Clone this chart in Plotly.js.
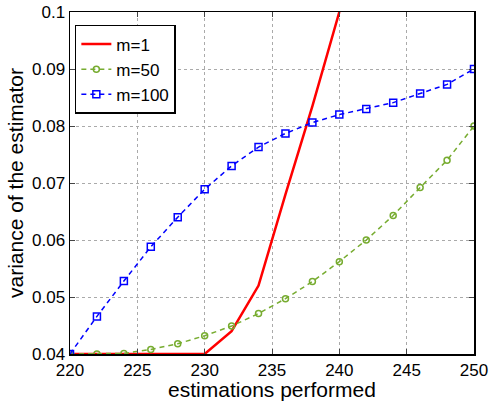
<!DOCTYPE html>
<html>
<head>
<meta charset="utf-8">
<script src="https://cdn.plot.ly/plotly-3.0.1.min.js"></script>
<style>html,body{margin:0;padding:0;background:#fff;}</style>
</head>
<body>
<div id="chart" style="width:491px;height:401px;"></div>
<script>
const xRed = [220, 222, 224, 226, 228, 230, 232, 234, 236, 238, 240];
const yRed = [0.04, 0.04, 0.04, 0.04, 0.04, 0.04, 0.044, 0.052, 0.068, 0.0835, 0.1];
const xSteps = [220, 222, 224, 226, 228, 230, 232, 234, 236, 238, 240, 242, 244, 246, 248, 250];
const yM50 = [0.04, 0.04, 0.0401, 0.0408, 0.0418, 0.0432, 0.0449, 0.0471, 0.0497, 0.0527, 0.0562, 0.06, 0.0643, 0.0692, 0.074, 0.08];
const yM100 = [0.04, 0.0466, 0.0528, 0.0588, 0.064, 0.0689, 0.073, 0.0763, 0.0787, 0.0806, 0.082, 0.083, 0.0841, 0.0857, 0.0873, 0.09];
const seriesNames = ['m=1', 'm=50', 'm=100'];
const xTicks = [220, 225, 230, 235, 240, 245, 250];
const yTicks = [0.04, 0.05, 0.06, 0.07, 0.08, 0.09, 0.1];
const yTickText = ['0.04', '0.05', '0.06', '0.07', '0.08', '0.09', '0.1'];

const traces = [
  {x: xRed, y: yRed, name: seriesNames[0], mode: 'lines',
   line: {color: '#ff0000', width: 2.5}},
  {x: xSteps, y: yM50, name: seriesNames[1], mode: 'lines+markers',
   line: {color: '#77ac30', width: 1.5, dash: '5px,4px'},
   marker: {symbol: 'circle-open', size: 6, color: '#77ac30', line: {width: 1.5, color: '#77ac30'}}},
  {x: xSteps, y: yM100, name: seriesNames[2], mode: 'lines+markers',
   line: {color: '#0000ff', width: 1.5, dash: '5px,4px'},
   marker: {symbol: 'square-open', size: 7, color: '#0000ff', line: {width: 1.5, color: '#0000ff'}}}
];

const font = {family: 'Liberation Sans, Arial, sans-serif', size: 17, color: '#000'};
const layout = {
  width: 491, height: 401,
  margin: {l: 70, r: 17, t: 12, b: 47},
  paper_bgcolor: '#fff', plot_bgcolor: '#fff',
  font: font,
  showlegend: true,
  legend: {x: 0.012, y: 0.962, xanchor: 'left', yanchor: 'top',
    bgcolor: '#fff', bordercolor: '#000', borderwidth: 1.5,
    font: {family: font.family, size: 17, color: '#000'},
    itemwidth: 30, tracegroupgap: 0},
  xaxis: {range: [220, 250], tickvals: xTicks, ticks: 'inside', ticklen: 5,
    showline: true, linecolor: '#000', linewidth: 1.5, mirror: 'ticks',
    showgrid: true, gridcolor: '#aaa', griddash: 'dot', gridwidth: 1,
    zeroline: false, tickfont: {size: 17},
    title: {text: 'estimations performed', font: {size: 21}, standoff: 0}},
  yaxis: {range: [0.04, 0.1], tickvals: yTicks, ticktext: yTickText, ticks: 'inside', ticklen: 5,
    showline: true, linecolor: '#000', linewidth: 1.5, mirror: 'ticks',
    showgrid: true, gridcolor: '#aaa', griddash: 'dot', gridwidth: 1,
    zeroline: false, tickfont: {size: 17},
    title: {text: 'variance of the estimator', font: {size: 21}, standoff: 2}}
};
Plotly.newPlot('chart', traces, layout, {displayModeBar: false, staticPlot: true});
</script>
</body>
</html>
